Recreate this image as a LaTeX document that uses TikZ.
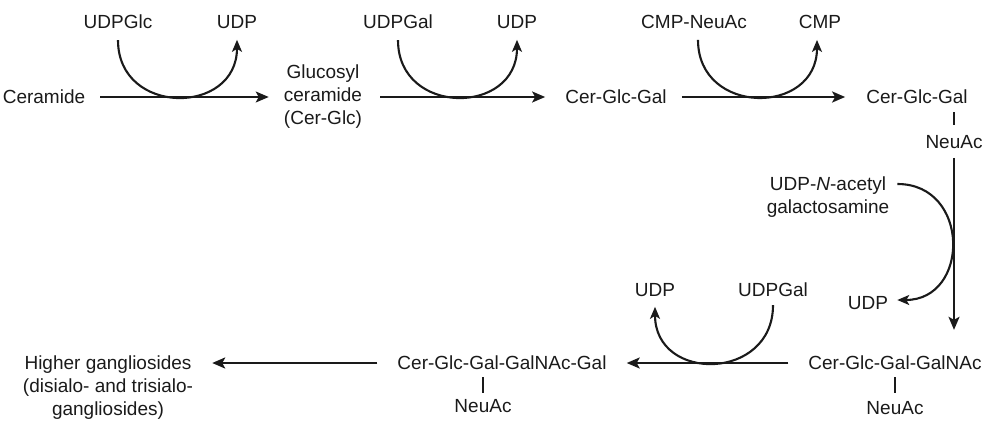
\documentclass[tikz,border=0pt]{standalone}
\usepackage{fontspec}
\setmainfont{Liberation Sans}
\usetikzlibrary{arrows.meta,calc}
\definecolor{ink}{HTML}{1a1a1a}
\tikzset{
  mol/.style={font=\fontsize{19}{23}\selectfont,text=ink,align=center,inner sep=3pt},
  arr/.style={-{Stealth[length=13pt,width=11pt,inset=3pt]},line width=2pt,draw=ink},
  cur/.style={-{Stealth[length=12pt,width=10pt,inset=3pt]},line width=2.1pt,draw=ink},
  tick/.style={line width=1.6pt,draw=ink},
}

\begin{document}
\begin{tikzpicture}[x=1pt,y=1pt]
\useasboundingbox (0,0) rectangle (995,424);
% top row
\node[mol] (cer) at (44,327) {Ceramide};
\node[mol] (glc) at (323,327) {Glucosyl\\ceramide\\(Cer-Glc)};
\node[mol] (lac) at (616,327) {Cer-Glc-Gal};
\node[mol] (gm3) at (917,327) {Cer-Glc-Gal};
\node[mol] (gm3n) at (954,282) {NeuAc};
\node[mol] (udpglc) at (118,402) {UDPGlc};
\node[mol] (udpa) at (237,402) {UDP};
\node[mol] (udpgal) at (398,402) {UDPGal};
\node[mol] (udpb) at (517,402) {UDP};
\node[mol] (cmpneu) at (694,402) {CMP-NeuAc};
\node[mol] (cmp) at (820,402) {CMP};
% right column and bottom row
\node[mol] (ugalnac) at (828,227) {UDP-\textit{N}-acetyl\\galactosamine};
\node[mol] (udpc) at (868,121) {UDP};
\node[mol] (gm2) at (895,61) {Cer-Glc-Gal-GalNAc};
\node[mol] (gm2n) at (895,16) {NeuAc};
\node[mol] (udpgalb) at (773,134) {UDPGal};
\node[mol] (udpd) at (655,134) {UDP};
\node[mol] (gm1) at (502,61) {Cer-Glc-Gal-GalNAc-Gal};
\node[mol] (gm1n) at (483,18) {NeuAc};
\node[mol] (high) at (108,36) {Higher gangliosides\\(disialo- and trisialo-\\gangliosides)};

\draw[arr,shorten <=12pt,shorten >=12pt] (cer.east) -- (glc.west |- cer.east);
\draw[arr,shorten <=15pt,shorten >=17pt] (glc.east |- lac.west) -- (lac.west);
\draw[arr,line width=2.6pt,shorten <=12pt,shorten >=18pt] (lac.east) -- (gm3.west);
\draw[arr,shorten <=6pt,shorten >=23pt] (gm3n.south) -- (gm3n.south |- gm2.north);
\draw[arr,shorten <=17pt,shorten >=17pt] (gm2.west) -- (gm1.east);
\draw[arr,line width=2.4pt,shorten <=17pt,shorten >=16pt] (gm1.west) -- (gm1.west -| high.east);

\draw[tick,shorten <=5pt,shorten >=7pt] (gm3.south -| gm3n) -- (gm3n.north);
\draw[tick,shorten <=4pt,shorten >=5pt] (gm2.south) -- (gm2n.north);
\draw[tick,shorten <=4pt,shorten >=3pt] (gm1.south -| gm1n) -- (gm1n.north);

\draw[cur] ([yshift=-8pt]udpglc.south) .. controls +(0,-76) and +(0,-76) .. ([yshift=-8pt]udpa.south);
\draw[cur] ([yshift=-8pt]udpgal.south) .. controls +(0,-76) and +(0,-76) .. ([yshift=-8pt]udpb.south);
\draw[cur] ([shift={(4,-8)}]cmpneu.south) .. controls +(0,-76) and +(0,-76) .. ([shift={(-3,-8)}]cmp.south);
\draw[cur] ([shift={(5,13)}]ugalnac.east) .. controls +(73,0) and +(73,0) .. ([shift={(6,3)}]udpc.east);
\draw[cur] ([yshift=-5pt]udpgalb.south) .. controls +(0,-76) and +(0,-76) .. ([yshift=-7pt]udpd.south);
\end{tikzpicture}
\end{document}
